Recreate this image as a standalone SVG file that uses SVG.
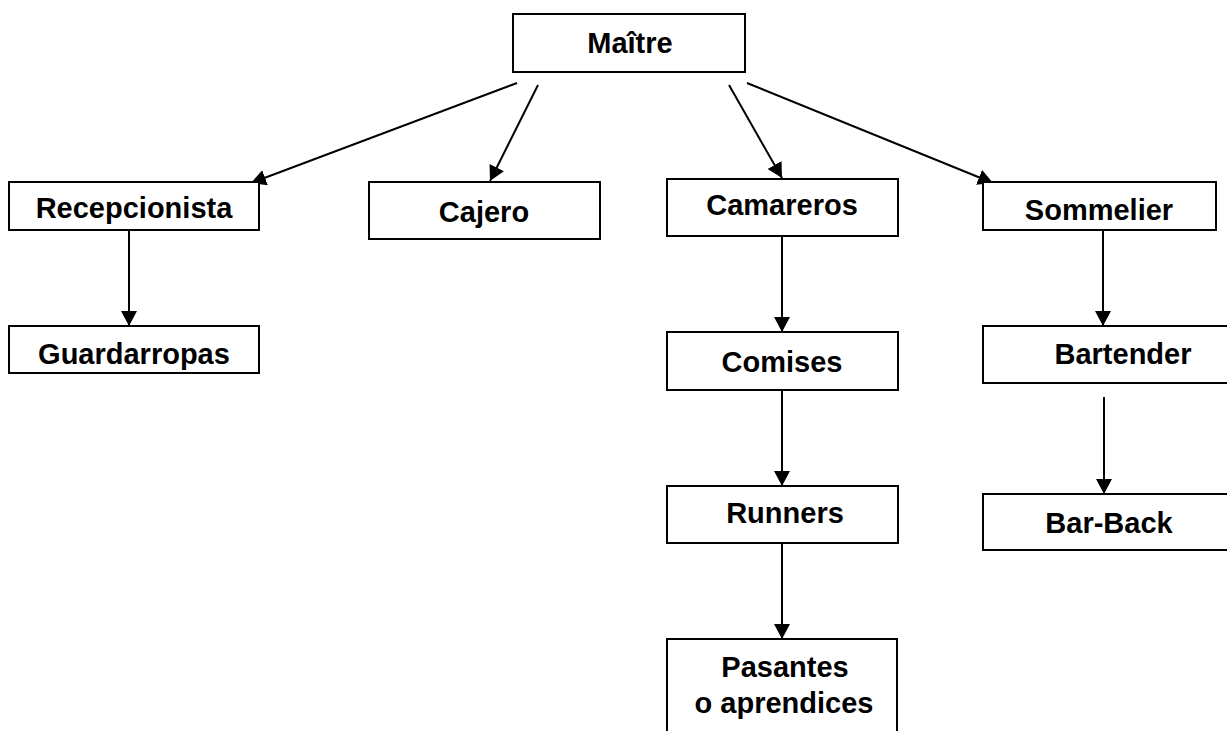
<svg xmlns="http://www.w3.org/2000/svg" width="1227" height="731" viewBox="0 0 1227 731">
<defs>
<marker id="ah" viewBox="0 0 15 16" refX="15" refY="8" markerWidth="15" markerHeight="16" markerUnits="userSpaceOnUse" orient="auto">
<path d="M0,0 L15,8 L0,16 Z" fill="#000"/>
</marker>
</defs>
<style>
.box{fill:#fff;stroke:#000;stroke-width:2}
.t{font-family:"Liberation Sans",Arial,sans-serif;font-weight:bold;font-size:29px;fill:#000;text-anchor:middle}
.c{stroke:#000;stroke-width:2;fill:none;marker-end:url(#ah)}
</style>
<rect width="1227" height="731" fill="#fff"/>
<g id="connectors">
<line class="c" x1="517" y1="83" x2="251" y2="183"/>
<line class="c" x1="538" y1="85" x2="490" y2="181"/>
<line class="c" x1="729" y1="85" x2="782" y2="178"/>
<line class="c" x1="747" y1="83" x2="993" y2="183"/>
<line class="c" x1="129" y1="230" x2="129" y2="326"/>
<line class="c" x1="782" y1="236" x2="782" y2="332"/>
<line class="c" x1="782" y1="390" x2="782" y2="486"/>
<line class="c" x1="782" y1="543" x2="782" y2="639"/>
<line class="c" x1="1103" y1="230" x2="1103" y2="326"/>
<line class="c" x1="1104" y1="397" x2="1104" y2="494"/>
</g>
<g id="maitre"><rect class="box" x="513" y="14" width="232" height="58"/><text class="t" x="630" y="53">Maître</text></g>
<g id="recepcionista"><rect class="box" x="9" y="182" width="250" height="48"/><text class="t" x="134" y="218">Recepcionista</text></g>
<g id="guardarropas"><rect class="box" x="9" y="326" width="250" height="47"/><text class="t" x="134" y="364">Guardarropas</text></g>
<g id="cajero"><rect class="box" x="369" y="182" width="231" height="57"/><text class="t" x="484" y="222">Cajero</text></g>
<g id="camareros"><rect class="box" x="667" y="179" width="231" height="57"/><text class="t" x="782" y="215">Camareros</text></g>
<g id="comises"><rect class="box" x="667" y="332" width="231" height="58"/><text class="t" x="782" y="372">Comises</text></g>
<g id="runners"><rect class="box" x="667" y="486" width="231" height="57"/><text class="t" x="785" y="523">Runners</text></g>
<g id="pasantes"><rect class="box" x="667" y="639" width="230" height="110"/><text class="t" x="785" y="677">Pasantes</text><text class="t" x="784" y="713">o aprendices</text></g>
<g id="sommelier"><rect class="box" x="983" y="182" width="233" height="48"/><text class="t" x="1099" y="220">Sommelier</text></g>
<g id="bartender"><rect class="box" x="983" y="326" width="260" height="57"/><text class="t" x="1123" y="364">Bartender</text></g>
<g id="barback"><rect class="box" x="983" y="494" width="260" height="56"/><text class="t" x="1109" y="533">Bar-Back</text></g>
</svg>
